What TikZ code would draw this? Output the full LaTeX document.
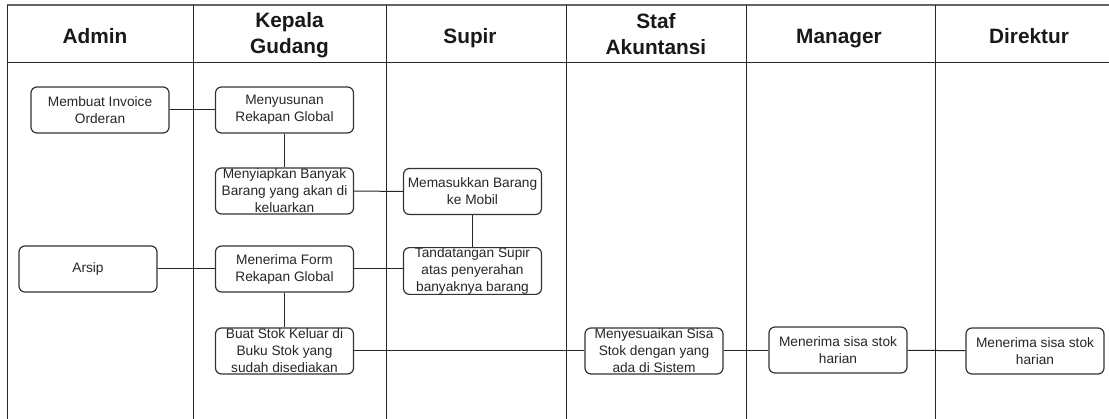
\documentclass[tikz,border=0pt]{standalone}
\usepackage{fontspec}
\setmainfont{Liberation Sans}
\newcommand{\lanefont}{\fontsize{20.8}{26}\selectfont\bfseries}
\newcommand{\taskfont}{\fontsize{13.7}{17}\selectfont}

\begin{document}
\begin{tikzpicture}[x=1pt,y=-1pt,
		lane/.style={line width=1pt,draw=black!85},
		head/.style={font=\lanefont,align=center,text=black!90},
		task/.style={draw=black!80,line width=1.2pt,rounded corners=6pt,font=\taskfont,align=center,
			text=black!85,minimum width=138pt,minimum height=46pt,inner xsep=1pt,inner ysep=0pt},
		link/.style={line width=1pt,draw=black!85}]
	\useasboundingbox (0,0) rectangle (1109,419);
	\draw[lane,draw=black!60,line width=1.6pt] (7,5) -- (1109,5);
	\draw[lane] (7,63) -- (1109,63);
	\foreach \x in {7,193,386,566,746,935}
		\draw[lane] (\x,5) -- (\x,419);
	\node[head,anchor=base] (hadmin) at (95,44) {Admin};
	\node[head] (hkepala) at (289.5,35) {Kepala\\Gudang};
	\node[head,anchor=base] (hsupir) at (470,44) {Supir};
	\node[head] (hstaf) at (656,34) {Staf\\Akuntansi};
	\node[head,anchor=base] (hmgr) at (839,44) {Manager};
	\node[head,anchor=base] (hdir) at (1029,44) {Direktur};
	\node[task] (inv) at (100,110) {Membuat Invoice\\Orderan};
	\node[task] (rekap) at (284.5,110) {Menyusunan\\Rekapan Global};
	\node[task] (siap) at (284.5,191) {Menyiapkan Banyak\\Barang yang akan di\\keluarkan};
	\node[task] (masuk) at (472.5,191.5) {Memasukkan Barang\\ke Mobil};
	\node[task] (arsip) at (88,269) {Arsip};
	\node[task] (terima) at (284.5,269) {Menerima Form\\Rekapan Global};
	\node[task] (ttd) at (472.5,271) {Tandatangan Supir\\atas penyerahan\\banyaknya barang};
	\node[task] (stok) at (284.5,351) {Buat Stok Keluar di\\Buku Stok yang\\sudah disediakan};
	\node[task] (sesuai) at (654,351) {Menyesuaikan Sisa\\Stok dengan yang\\ada di Sistem};
	\node[task] (mgr) at (838,350) {Menerima sisa stok\\harian};
	\node[task] (dir) at (1035,351) {Menerima sisa stok\\harian};
	\draw[link] (inv) -- (rekap);
	\draw[link] (rekap) -- (siap);
	\draw[link] (siap) -- (masuk);
	\draw[link] (masuk) -- (ttd);
	\draw[link] (arsip) -- (terima);
	\draw[link] (terima.east) -- (ttd.west |- terima.east);
	\draw[link] (terima) -- (stok);
	\draw[link] (stok) -- (sesuai);
	\draw[link] (sesuai) -- (mgr.west |- sesuai.east);
	\draw[link] (mgr) -- (dir);
\end{tikzpicture}
\end{document}
